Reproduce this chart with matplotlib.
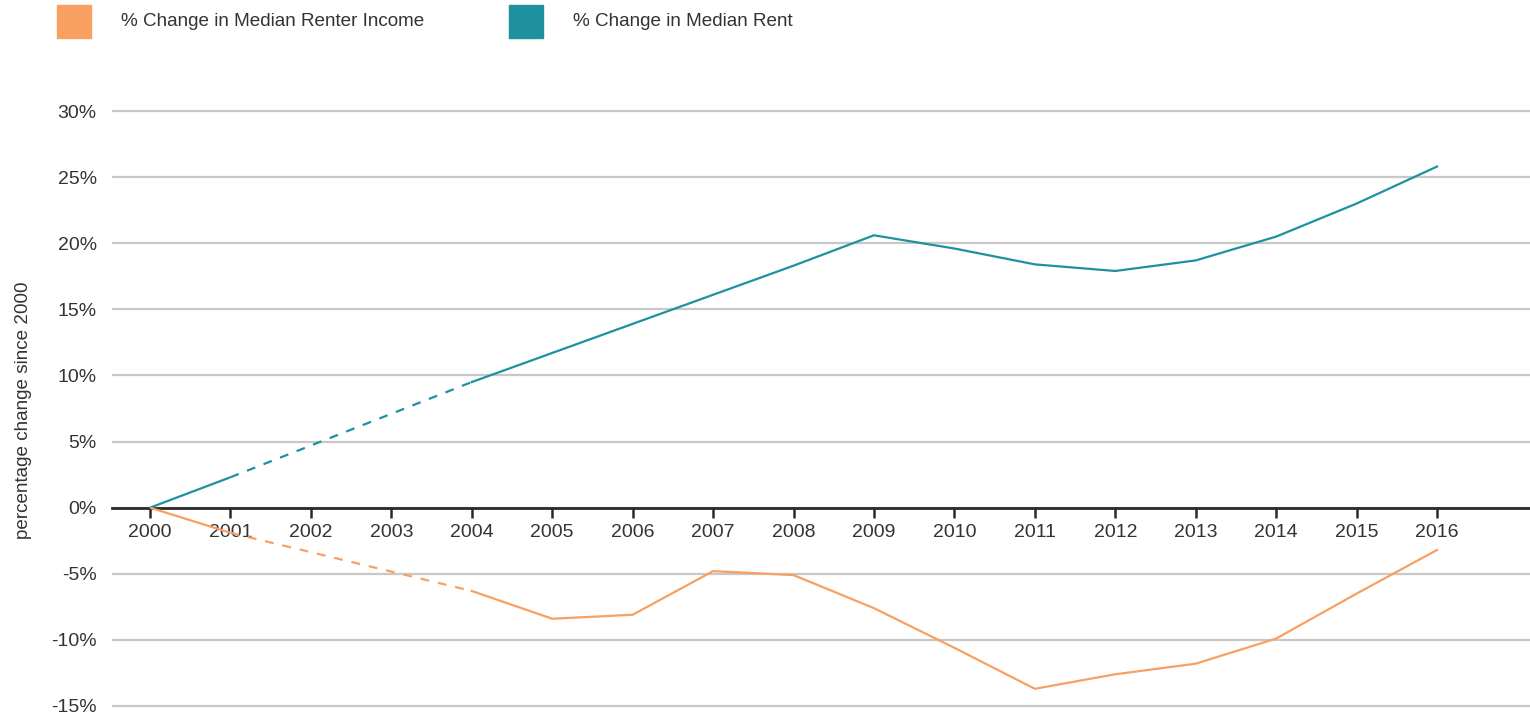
import numpy as np
import matplotlib
matplotlib.use('Agg')
import matplotlib.pyplot as plt
from matplotlib.patches import Rectangle

plt.rcParams['font.family'] = ['Liberation Sans', 'DejaVu Sans']

# values (percent change since 2000)
years = [2000, 2001, 2004, 2005, 2006, 2007, 2008, 2009, 2010, 2011, 2012, 2013, 2014, 2015, 2016]
rent_change = [0.0, 2.3, 9.5, 11.7, 13.9, 16.1, 18.3, 20.6, 19.6, 18.4, 17.9, 18.7, 20.5, 23.0, 25.8]
income_change = [0.0, -1.9, -6.3, -8.4, -8.1, -4.8, -5.1, -7.6, -10.6, -13.7, -12.6, -11.8, -9.9, -6.5, -3.2]
tick_years = list(range(2000, 2017))
y_ticks = [-15, -10, -5, 0, 5, 10, 15, 20, 25, 30]

orange = '#F7A062'
teal = '#1E919F'
text_col = '#333333'

W, H = 1530, 716
fig = plt.figure(figsize=(W / 100, H / 100), dpi=100)
ax = fig.add_axes([112 / W, 0, (W - 112) / W, 616 / H])

ppy = 80.44  # pixels per year
ax.set_xlim(2000 - 38 / ppy, 2000 + (W - 150) / ppy)
ax.set_ylim(-15 - 10 / 13.22, 30 + 11 / 13.22)

for series, col in [(rent_change, teal), (income_change, orange)]:
    # solid 2000-2001, dashed across the missing years 2001-2004, solid 2004-2016
    ax.plot(years[:2], series[:2], color=col, lw=1.6, solid_capstyle='butt', zorder=3)
    ax.plot(years[1:3], series[1:3], color=col, lw=1.6, ls=(0, (4, 4)), zorder=3)
    ax.plot(years[2:], series[2:], color=col, lw=1.6, solid_joinstyle='round', zorder=3)

ax.set_yticks(y_ticks)
ax.set_yticklabels([f'{v}%' for v in y_ticks])
ax.set_xticks(tick_years)
ax.set_xticklabels([str(y) for y in tick_years])
ax.grid(axis='y', color='#c8c8c8', lw=1.6)
ax.grid(axis='x', visible=False)
ax.set_axisbelow(True)

for side in ['top', 'right', 'left']:
    ax.spines[side].set_visible(False)
ax.spines['bottom'].set_position(('data', 0))
ax.spines['bottom'].set_color('#2b2b2b')
ax.spines['bottom'].set_linewidth(2.0)
ax.spines['bottom'].set_zorder(2.5)

ax.tick_params(axis='y', length=0, pad=11, labelsize=14, labelcolor=text_col)
ax.tick_params(axis='x', direction='out', length=7, width=1.8, color='#2b2b2b',
               pad=5, labelsize=14, labelcolor=text_col)

fig.text(24 / W, 1 - 410 / H, 'percentage change since 2000', rotation=90,
         ha='center', va='center', fontsize=13.6, color=text_col)

# legend squares
for x0, col, label in [(57, orange, '% Change in Median Renter Income'),
                       (509, teal, '% Change in Median Rent')]:
    fig.patches.append(Rectangle((x0 / W, 1 - 38 / H), 34 / W, 33 / H,
                                 transform=fig.transFigure, color=col))
    fig.text((x0 + 64) / W, 1 - 22 / H, label, ha='left', va='center',
             fontsize=13.6, color=text_col)

fig.savefig('out.png', dpi=100)
